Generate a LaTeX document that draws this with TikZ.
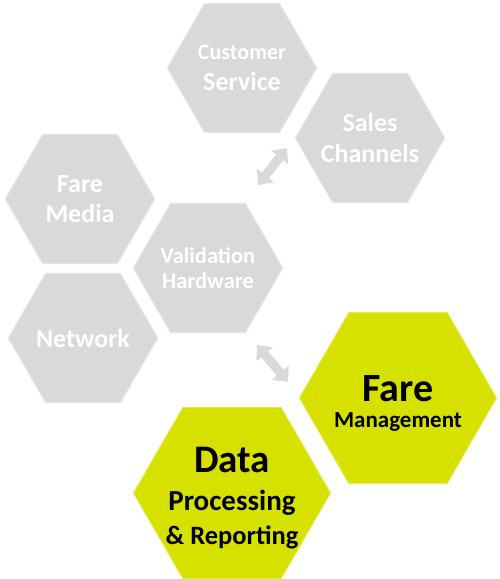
\documentclass[tikz,border=0pt]{standalone}
\usepackage{fontspec}
\setmainfont{Carlito}
\usepackage{tikz}
\usetikzlibrary{shapes.geometric, arrows.meta}
\definecolor{hexgrey}{HTML}{D9D9D9}
\definecolor{hexgreen}{HTML}{D7E100}
\newcommand{\hexsize}[1]{\fontsize{#1}{#1}\selectfont}

\begin{document}
\begin{tikzpicture}[x = 1pt, y = -1pt,
    hex/.style = { shape = regular polygon, regular polygon sides = 6, inner sep = -20pt, align = center, font = \bfseries },
    greyhex/.style = { hex, minimum size = 150pt, fill = hexgrey, draw = black!7, line width = 1pt, text = white },
    greenhex/.style = { hex, minimum size = 197pt, fill = hexgreen, draw = hexgreen!70!white, line width = 1pt, text = black },
    link/.style = { line width = 9pt, draw = hexgrey, {Triangle[length = 12pt, width = 21pt]}-{Triangle[length = 12pt, width = 21pt]} }]
  \useasboundingbox (0,0) rectangle (500,579);

  \node[greyhex] (service) at (242,68) {\hexsize{22}Customer \\[11pt] \hexsize{26}Service};
  \node[greyhex] (sales) at (370,138) {\hexsize{26}Sales \\[11pt] \hexsize{26}Channels};
  \node[greyhex] (media) at (80,199) {\hexsize{26}Fare \\[10pt] \hexsize{26}Media};
  \node[greyhex] (hardware) at (208,268) {\hexsize{22.5}Validation \\[8pt] \hexsize{22.5}Hardware};
  \node[greyhex] (network) at (83,338) {\hexsize{26}Network};
  % struts push the green texts a little below the middle
  \node[greenhex] (management) at (398,398) {\hexsize{40}\rule{0pt}{37pt}Fare \\[10pt] \hexsize{23}Management};
  \node[greenhex] (data) at (232,493) {\hexsize{39}\rule{0pt}{36pt}Data \\[16pt] \hexsize{29}Processing \\[10pt] \hexsize{26.5}\& Reporting};

  % free ends of the two links
  \coordinate (sales-in) at (287,148);
  \coordinate (hardware-up) at (258,185);
  \coordinate (hardware-down) at (257,345);
  \coordinate (management-in) at (288,382);

  \draw[link] (hardware-up) -- (sales-in);
  \draw[link] (hardware-down) -- (management-in);
\end{tikzpicture}
\end{document}
